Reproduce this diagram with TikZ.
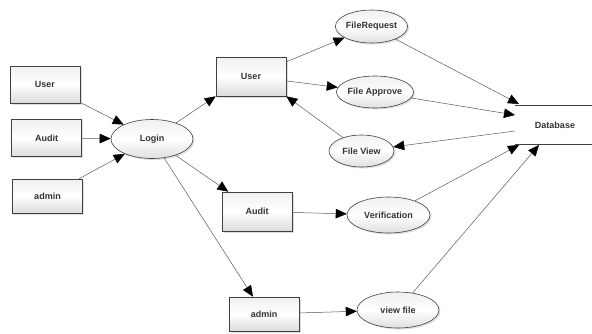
\documentclass[tikz,border=0pt]{standalone}
\usepackage{fontspec}
\setmainfont{Liberation Sans}
\usetikzlibrary{arrows.meta,shadows,shapes.geometric}
\begin{document}
\begin{tikzpicture}[x=1pt,y=-1pt,
  lbl/.style={font=\fontsize{9}{10}\selectfont\bfseries, text=black!80},
  boxnode/.style={lbl, draw=black!75, line width=0.6pt, rectangle, minimum width=70pt, minimum height=37pt,
    top color=gray!12, bottom color=gray!28, middle color=white,
    drop shadow={opacity=0.25, shadow xshift=1.5pt, shadow yshift=-1.5pt}},
  ellnode/.style={lbl, draw=black!75, line width=0.6pt, ellipse, inner sep=0pt,
    top color=gray!12, bottom color=gray!25, middle color=white,
    drop shadow={opacity=0.25, shadow xshift=1.5pt, shadow yshift=-1.5pt}},
  conn/.style={draw=black!65, line width=0.5pt, -{Triangle[length=11pt,width=9.5pt,fill=black,color=black]}},
  dbline/.style={draw=black!75, line width=0.7pt}
]
\useasboundingbox (0,0) rectangle (592,333);
% left boxes
\node[boxnode] (u1) at (45,84.5) {User};
\node[boxnode] (a1) at (46.5,138) {Audit};
\node[boxnode, minimum height=34pt] (m1) at (47.5,196) {admin};
% login
\node[ellnode, minimum width=82pt, minimum height=39pt] (login) at (152,139) {Login};
% second column boxes
\node[boxnode, minimum height=39pt] (u2) at (251,76.5) {User};
\node[boxnode, minimum height=39pt] (a2) at (257,211.5) {Audit};
\node[boxnode, minimum height=34pt] (m2) at (264,314) {admin};
% ellipses
\node[ellnode, minimum width=67pt, minimum height=33pt] (freq) at (371.5,26.5) {FileRequest};
\node[ellnode, minimum width=66pt, minimum height=32pt] (fapp) at (375,92) {File Approve};
\node[ellnode, minimum width=65pt, minimum height=32pt] (fview) at (361.5,151) {File View};
\node[ellnode, minimum width=83pt, minimum height=36pt] (ver) at (388.5,215) {Verification};
\node[ellnode, minimum width=82pt, minimum height=36pt] (vfile) at (398,310) {view file};
% database
\node[lbl] (db) at (555,125) {Database};
\coordinate (dbTL) at (515,105);
\coordinate (dbTR) at (592,105);
\coordinate (dbBL) at (515,144);
\coordinate (dbBR) at (592,144);
\draw[dbline] (dbTL) -- (dbTR);
\draw[dbline] (dbBL) -- (dbBR);
\coordinate (dbA) at (519,104);
\coordinate (dbB) at (515,115);
\coordinate (dbC) at (515,131);
\coordinate (dbD) at (519,145);
\coordinate (dbE) at (539,145);
% connectors
\draw[conn] (u1) -- (login);
\draw[conn] (a1) -- (login);
\draw[conn] (m1) -- (login);
\draw[conn] (login) -- (u2.south west);
\draw[conn] (login) -- (a2);
\draw[conn] (login) -- (m2);
\draw[conn] (u2) -- (freq);
\draw[conn] (u2) -- (fapp);
\draw[conn] (fview) -- (u2.south east);
\draw[conn] (a2) -- (ver);
\draw[conn] (m2) -- (vfile);
\draw[conn] (freq) -- (dbA);
\draw[conn] (fapp) -- (dbB);
\draw[conn] (dbC) -- (fview);
\draw[conn] (ver) -- (dbD);
\draw[conn] (vfile) -- (dbE);
\end{tikzpicture}
\end{document}
